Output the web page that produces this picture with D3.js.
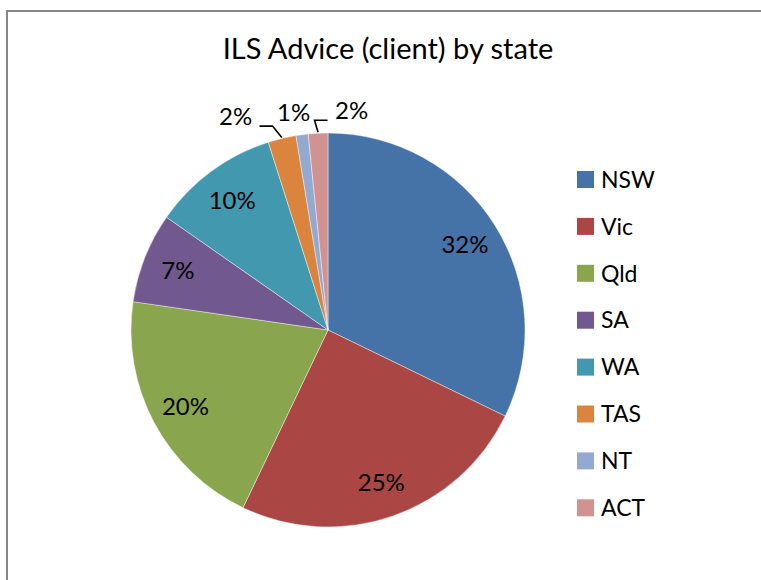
<!DOCTYPE html>
<html>
<head>
<meta charset="utf-8">
<script src="https://cdn.jsdelivr.net/npm/d3@7"></script>
<style>
  html, body { margin: 0; padding: 0; background: #fff; }
  svg { display: block; }
  text { font-family: Lato, "Open Sans", sans-serif; fill: #000; }
</style>
</head>
<body>
<svg id="chart" width="761" height="580"></svg>
<script>
// ---- data ----
const categories = ["NSW", "Vic", "Qld", "SA", "WA", "TAS", "NT", "ACT"];
const values = [32.2, 24.9, 20.2, 7.4, 10.4, 2.3, 1.0, 1.6];
const sliceColors = ["#4572A7", "#AA4643", "#89A54E", "#71588F", "#4198AF", "#DB843D", "#93A9CF", "#D19392"];
const chartTitle = "ILS Advice (client) by state";

// ---- layout ----
const cx = 328, cy = 330, R = 197;
const svg = d3.select("#chart");

// chart frame (extends past the window right/bottom)
svg.append("rect")
  .attr("x", 7).attr("y", 11)
  .attr("width", 820).attr("height", 640)
  .attr("fill", "#fff")
  .attr("stroke", "#868686").attr("stroke-width", 2);

svg.append("text")
  .attr("x", 388).attr("y", 59)
  .attr("text-anchor", "middle")
  .attr("font-size", 29)
  .text(chartTitle);

const color = d3.scaleOrdinal().domain(categories).range(sliceColors);
const data = categories.map((c, i) => ({ cat: c, value: values[i] }));
const total = d3.sum(values);

const pie = d3.pie().value(d => d.value).sort(null);
const arcs = pie(data);
const arc = d3.arc().innerRadius(0).outerRadius(R);

const g = svg.append("g").attr("transform", `translate(${cx},${cy})`);
g.selectAll("path.slice").data(arcs).enter().append("path")
  .attr("class", "slice")
  .attr("d", arc)
  .attr("fill", d => color(d.data.cat))
  .attr("stroke", "#ffffff").attr("stroke-width", 0.6).attr("stroke-opacity", 0.7);

const fmt = d => Math.round(d.data.value / total * 100) + "%";
const fontSize = 24;

// inside labels
const inside = arcs.filter(d => d.data.value / total >= 0.05);
const labelArc = d3.arc().innerRadius(R * 0.82).outerRadius(R * 0.82);
g.selectAll("text.in").data(inside).enter().append("text")
  .attr("class", "in")
  .attr("x", d => labelArc.centroid(d)[0])
  .attr("y", d => labelArc.centroid(d)[1])
  .attr("dy", "0.36em")
  .attr("text-anchor", "middle")
  .attr("font-size", fontSize)
  .text(fmt);

// outside labels (small slices) with spreading
const outside = arcs.filter(d => d.data.value / total < 0.05).map(d => {
  const mid = (d.startAngle + d.endAngle) / 2;
  const rr = R + 23;
  return { d, mid, x0: Math.sin(mid) * rr, x: Math.sin(mid) * rr, y: -Math.cos(mid) * rr };
});
outside.sort((a, b) => a.x - b.x);
const minGap = 58;
for (let it = 0; it < 200; it++) {
  for (let i = 0; i < outside.length - 1; i++) {
    const a = outside[i], b = outside[i + 1];
    const gap = b.x - a.x;
    if (gap < minGap) {
      const push = (minGap - gap) / 2;
      a.x -= push; b.x += push;
    }
  }
}
outside.forEach(o => { o.x -= 4; });
g.selectAll("text.out").data(outside).enter().append("text")
  .attr("class", "out")
  .attr("x", o => o.x).attr("y", o => o.y)
  .attr("dy", "0.36em")
  .attr("text-anchor", "middle")
  .attr("font-size", fontSize)
  .text(o => fmt(o.d));

// leader lines for moved labels
const halfW = 16;
outside.filter(o => Math.abs(o.x - o.x0) > 20).forEach(o => {
  const side = o.x < o.x0 ? 1 : -1; // direction toward slice
  const ax = Math.sin(o.mid) * (R + 1), ay = -Math.cos(o.mid) * (R + 1);
  const ly = o.y + 10;
  const lx0 = o.x + side * (halfW + 8);
  const lx1 = lx0 + side * 13;
  g.append("path")
    .attr("d", d3.line()([[lx0, ly], [lx1, ly], [ax, ay]]))
    .attr("fill", "none").attr("stroke", "#000").attr("stroke-width", 1.6);
});

// legend
const legend = svg.append("g").attr("transform", "translate(577,179.5)");
const rowH = 46.9;
const rows = legend.selectAll("g").data(categories).enter().append("g")
  .attr("transform", (d, i) => `translate(0,${i * rowH})`);
rows.append("rect").attr("x", 0).attr("y", -8.5).attr("width", 17).attr("height", 17)
  .attr("fill", d => color(d));
rows.append("text").attr("x", 24).attr("y", 0).attr("dy", "0.36em")
  .attr("font-size", 23).text(d => d);
</script>
</body>
</html>
